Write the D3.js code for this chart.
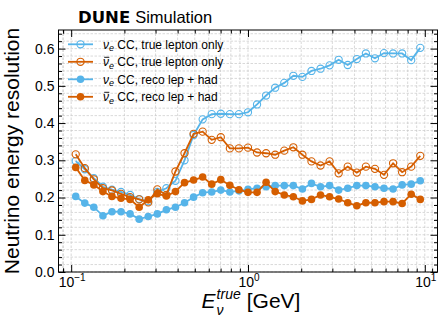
<!DOCTYPE html>
<html>
<head>
<meta charset="utf-8">
<script src="https://cdn.jsdelivr.net/npm/d3@7"></script>
<style>
  body { margin: 0; background: #fff; }
  svg { display: block; }
  text { font-family: "Liberation Sans", Arial, Helvetica, sans-serif; fill: #000; }
</style>
</head>
<body>
<svg id="chart" width="448" height="336"></svg>
<script>
// bin centres in GeV
const energies = [0.1061, 0.1194, 0.1343, 0.1512, 0.1701, 0.1914, 0.2154, 0.2424, 0.2728, 0.3070,
  0.3455, 0.3888, 0.4375, 0.4924, 0.5541, 0.6235, 0.7017, 0.7897, 0.8887, 1.000,
  1.125, 1.266, 1.425, 1.604, 1.805, 2.031, 2.286, 2.572, 2.894, 3.257,
  3.665, 4.125, 4.642, 5.224, 5.878, 6.615, 7.444, 8.377, 9.427];

const nueTrueLep = [0.298, 0.276, 0.252, 0.229, 0.221, 0.215, 0.207, 0.196, 0.190, 0.215,
  0.225, 0.245, 0.300, 0.368, 0.410, 0.424, 0.425, 0.424, 0.424, 0.429,
  0.450, 0.474, 0.495, 0.508, 0.527, 0.524, 0.540, 0.546, 0.555, 0.570,
  0.556, 0.572, 0.587, 0.574, 0.588, 0.587, 0.587, 0.569, 0.602];

const nuebarTrueLep = [0.316, 0.279, 0.249, 0.225, 0.219, 0.210, 0.201, 0.195, 0.187, 0.222,
  0.207, 0.270, 0.319, 0.371, 0.377, 0.355, 0.362, 0.332, 0.332, 0.334,
  0.321, 0.319, 0.315, 0.326, 0.335, 0.315, 0.297, 0.286, 0.297, 0.265,
  0.283, 0.267, 0.283, 0.277, 0.261, 0.292, 0.268, 0.283, 0.312];

const nueReco = [0.203, 0.185, 0.174, 0.151, 0.162, 0.162, 0.156, 0.142, 0.149, 0.156,
  0.167, 0.174, 0.186, 0.201, 0.213, 0.215, 0.220, 0.215, 0.218, 0.222,
  0.225, 0.229, 0.232, 0.232, 0.232, 0.223, 0.238, 0.229, 0.232, 0.220,
  0.225, 0.232, 0.232, 0.229, 0.225, 0.223, 0.234, 0.236, 0.245];

const nuebarReco = [0.281, 0.246, 0.234, 0.216, 0.203, 0.198, 0.195, 0.174, 0.194, 0.210,
  0.204, 0.216, 0.240, 0.247, 0.255, 0.236, 0.248, 0.233, 0.221, 0.214,
  0.214, 0.241, 0.216, 0.207, 0.202, 0.191, 0.195, 0.207, 0.202, 0.196,
  0.186, 0.178, 0.186, 0.186, 0.189, 0.189, 0.184, 0.209, 0.195];

const yTicks = [0.0, 0.1, 0.2, 0.3, 0.4, 0.5, 0.6];
const xTicks = [0.1, 1, 10];
const xTickExp = ["\u22121", "0", "1"];

const series = [
  { bar: false, label: "CC, true lepton only", values: nueTrueLep, color: "#56B4E9", open: true },
  { bar: true, label: "CC, true lepton only", values: nuebarTrueLep, color: "#D55E00", open: true },
  { bar: false, label: "CC, reco lep + had", values: nueReco, color: "#56B4E9", open: false },
  { bar: true, label: "CC, reco lep + had", values: nuebarReco, color: "#D55E00", open: false }
];

const margin = { top: 30, right: 10.5, bottom: 64, left: 58.5 };
const width = 448, height = 336;
const svg = d3.select("#chart");

// 5% padding in log space, like matplotlib autoscale
const lext = d3.extent(energies).map(Math.log10);
const pad = 0.05 * (lext[1] - lext[0]);
const x = d3.scaleLog()
  .domain([10 ** (lext[0] - pad), 10 ** (lext[1] + pad)])
  .range([margin.left, width - margin.right]);
const y = d3.scaleLinear()
  .domain([0, 0.65])
  .range([height - margin.bottom, margin.top]);

const [x0, x1] = x.range();
const [y0, y1] = y.range();

// minor positions
const xMinor = [];
for (let e = -2; e <= 1; e++) {
  for (let m = 2; m <= 9; m++) xMinor.push(m * 10 ** e);
}
xMinor.push(0.09, 11);
const xMinorIn = xMinor.filter(v => v > x.domain()[0] && v < x.domain()[1]);
const yMinor = d3.range(0, 0.65, 0.02).filter(v => Math.abs(v * 10 - Math.round(v * 10)) > 1e-6);

// grid
const grid = svg.append("g").attr("stroke", "#c8c8c8").attr("stroke-width", 0.7).attr("stroke-dasharray", "2.5,1.5");
grid.selectAll(".gx").data(xTicks.concat(xMinorIn)).join("line")
  .attr("x1", d => x(d)).attr("x2", d => x(d)).attr("y1", y0).attr("y2", y1);
grid.selectAll(".gy").data(yTicks.concat(yMinor)).join("line")
  .attr("x1", x0).attr("x2", x1).attr("y1", d => y(d)).attr("y2", d => y(d));

// curves
const line = d3.line().x(d => x(d[0])).y(d => y(d[1]));
series.forEach(s => {
  const pts = energies.map((e, i) => [e, s.values[i]]);
  const g = svg.append("g");
  g.append("path").datum(pts)
    .attr("fill", "none").attr("stroke", s.color).attr("stroke-width", 1.8)
    .attr("d", line);
  g.selectAll("circle").data(pts).join("circle")
    .attr("cx", d => x(d[0])).attr("cy", d => y(d[1])).attr("r", s.open ? 3.6 : 3.8)
    .attr("fill", s.open ? "none" : s.color)
    .attr("stroke", s.color).attr("stroke-width", s.open ? 1.1 : 0);
});

// frame + inward ticks on all sides
const axes = svg.append("g");
axes.append("rect").attr("x", x0).attr("y", y1).attr("width", x1 - x0).attr("height", y0 - y1)
  .attr("fill", "none").attr("stroke", "#000").attr("stroke-width", 1);

const bottomMaj = d3.axisBottom(x).tickValues(xTicks).tickSize(-7).tickFormat("");
const bottomMin = d3.axisBottom(x).tickValues(xMinorIn).tickSize(-3.5).tickFormat("");
const topMaj = d3.axisTop(x).tickValues(xTicks).tickSize(-7).tickFormat("");
const topMin = d3.axisTop(x).tickValues(xMinorIn).tickSize(-3.5).tickFormat("");
const leftMaj = d3.axisLeft(y).tickValues(yTicks).tickSize(-7).tickFormat("");
const leftMin = d3.axisLeft(y).tickValues(yMinor).tickSize(-3.5).tickFormat("");
const rightMaj = d3.axisRight(y).tickValues(yTicks).tickSize(-7).tickFormat("");
const rightMin = d3.axisRight(y).tickValues(yMinor).tickSize(-3.5).tickFormat("");

[[bottomMaj, 0, y0], [bottomMin, 0, y0], [topMaj, 0, y1], [topMin, 0, y1],
 [leftMaj, x0, 0], [leftMin, x0, 0], [rightMaj, x1, 0], [rightMin, x1, 0]].forEach(([ax, tx, ty]) => {
  const g = axes.append("g").attr("transform", `translate(${tx},${ty})`).call(ax);
  g.select(".domain").remove();
  g.selectAll(".tick line").attr("stroke", "#000").attr("stroke-width", 1);
});

// y tick labels
axes.selectAll(".ylab").data(yTicks).join("text")
  .attr("x", x0 - 4).attr("y", d => y(d)).attr("dy", "0.35em")
  .attr("text-anchor", "end").attr("font-size", 14)
  .text(d => d.toFixed(1));

// x tick labels 10^n
xTicks.forEach((v, i) => {
  const t = axes.append("text").attr("y", y0 + 15).attr("font-size", 14);
  t.append("tspan").text("10");
  t.append("tspan").attr("font-size", 10).attr("dy", -6).text(xTickExp[i]);
  const w = t.node().getComputedTextLength();
  t.attr("x", x(v) - w / 2 + 1);
});

// y label
svg.append("text")
  .attr("transform", `translate(19,${(y0 + y1) / 2}) rotate(-90)`)
  .attr("text-anchor", "middle").attr("font-size", 21)
  .text("Neutrino energy resolution");

// x label: E_nu^true [GeV]
const xl = svg.append("g");
const eT = xl.append("text").attr("font-size", 21).attr("font-style", "italic").attr("y", 308).text("E");
const wE = eT.node().getComputedTextLength() + 1;
const supT = xl.append("text").attr("font-size", 14).attr("font-style", "italic").attr("x", wE).attr("y", 298.5).text("true");
const subT = xl.append("text").attr("font-size", 14).attr("font-style", "italic").attr("x", wE).attr("y", 315).text("\u03bd");
const wS = Math.max(supT.node().getComputedTextLength(), subT.node().getComputedTextLength()) + 6;
const gev = xl.append("text").attr("font-size", 21).attr("x", wE + wS).attr("y", 308).text("[GeV]");
const wTot = wE + wS + gev.node().getComputedTextLength();
xl.attr("transform", `translate(${(x0 + x1) / 2 - wTot / 2 + 3},0)`);

// title
const title = svg.append("text").attr("x", 78).attr("y", 23);
title.append("tspan").attr("font-family", "DejaVu Sans").attr("font-weight", 900).attr("font-size", 16.5).text("DUNE");
title.append("tspan").attr("font-size", 16.5).attr("dx", 5).text("Simulation");

// legend
const leg = svg.append("g");
series.forEach((s, i) => {
  const ly = 44.3 + i * 17.5;
  leg.append("line").attr("x1", 68).attr("x2", 93).attr("y1", ly).attr("y2", ly)
    .attr("stroke", s.color).attr("stroke-width", 1.8);
  leg.append("circle").attr("cx", 80.5).attr("cy", ly).attr("r", s.open ? 3.6 : 3.8)
    .attr("fill", s.open ? "none" : s.color).attr("stroke", s.color).attr("stroke-width", s.open ? 1.1 : 0);
  const t = leg.append("text").attr("x", 103).attr("y", ly + 4.3).attr("font-size", 12);
  t.append("tspan").attr("font-style", "italic").text("\u03bd");
  t.append("tspan").attr("font-style", "italic").attr("font-size", 9).attr("dy", 2.5).text("e");
  t.append("tspan").attr("dy", -2.5).attr("dx", 3.3).text(s.label);
  if (s.bar) {
    const b = t.node().getExtentOfChar(0);
    leg.append("line").attr("x1", b.x + 1.2).attr("x2", b.x + b.width + 0.3)
      .attr("y1", b.y + 2.2).attr("y2", b.y + 2.2)
      .attr("stroke", "#000").attr("stroke-width", 0.9);
  }
});
</script>
</body>
</html>
